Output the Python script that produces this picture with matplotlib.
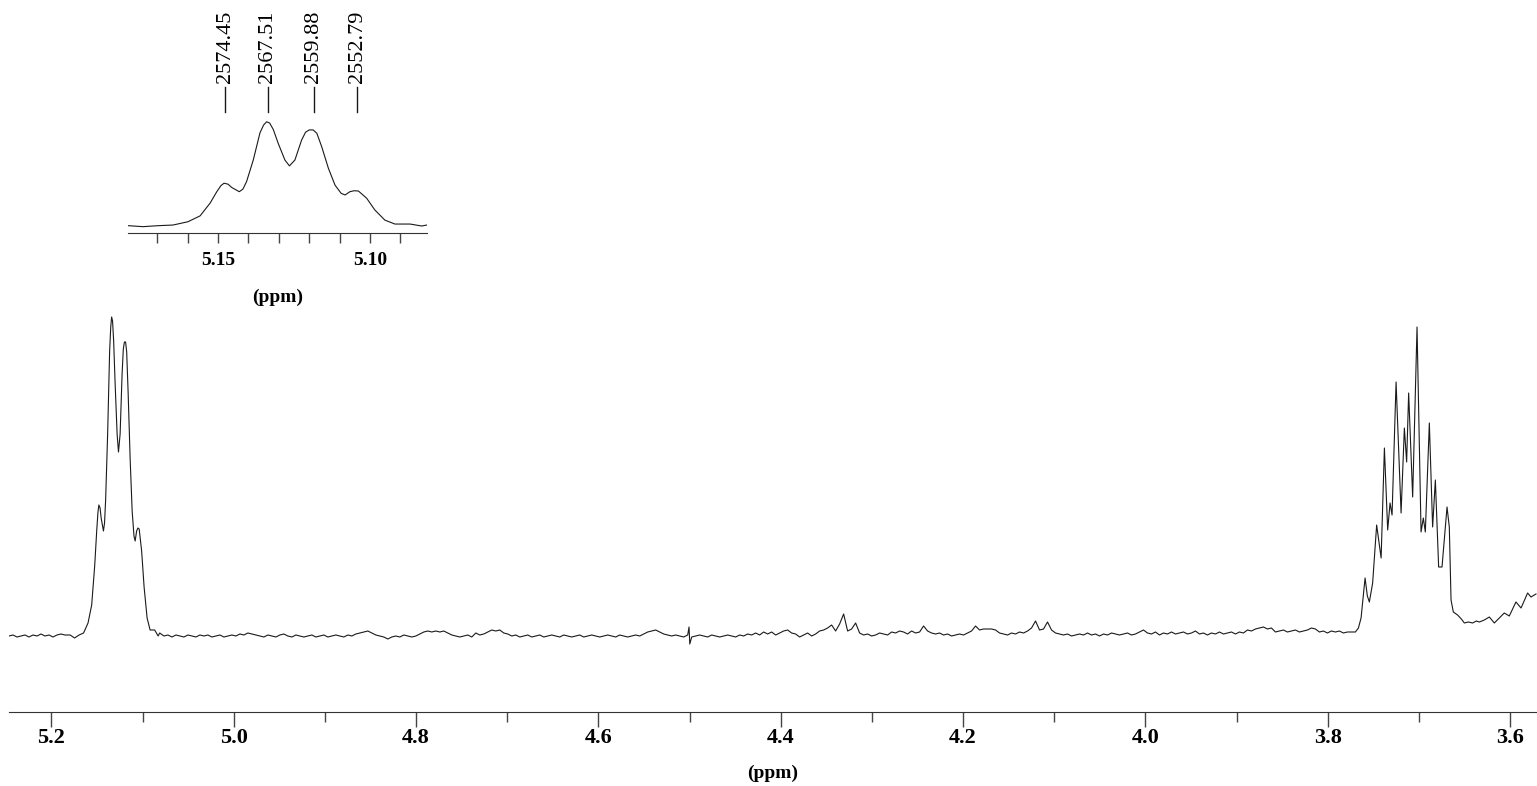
import numpy as np
import matplotlib
matplotlib.use('Agg')
import matplotlib.pyplot as plt
import matplotlib.transforms as mtransforms
from matplotlib.ticker import MultipleLocator, FormatStrFormatter

plt.rcParams['font.family'] = ['Liberation Serif', 'DejaVu Serif']
plt.rcParams['font.weight'] = 'bold'

# --- spectrum trace (ppm, intensity above baseline) ---

# left baseline, 5.2466 ppm onwards, one value per grid step
grid_step = 0.004386
base_left_start = 5.2466
base_left = [0, 1, -1, 0, 1, -1, 1, 0, 2, 0, 1, -1, 1, 2, 1]

# multiplet around 5.13 ppm
ppm_a = [5.1795, 5.1747, 5.1697, 5.1648, 5.1599, 5.1559, 5.1526, 5.1504, 5.1490,
         5.1480, 5.1467, 5.1455, 5.1430, 5.1418, 5.1406, 5.1384, 5.1362, 5.1350,
         5.1340, 5.1330, 5.1318, 5.1302, 5.1280, 5.1265, 5.1247, 5.1225, 5.1212,
         5.1200, 5.1187, 5.1175, 5.1159, 5.1137, 5.1115, 5.1095, 5.1082, 5.1066,
         5.1052, 5.1038, 5.1011, 5.0984, 5.0951, 5.0918, 5.0868, 5.0830, 5.0813]
int_a = [1, -2, 1, 3, 13, 31, 70, 105, 124,
         131, 128, 118, 105, 113, 136, 202, 285, 309,
         319, 315, 295, 253, 202, 184, 202, 263, 287,
         294, 294, 284, 243, 177, 125, 100, 95, 105,
         108, 107, 85, 49, 18, 6, 6, 0, 3]

# baseline between the two multiplets (four stretches)
mid_starts = [5.07664, 4.74770, 4.41875, 4.08980]
base_mid_1 = [0, 1, -1, 1, 0, -1, 1, 0, -1, 1,
              0, 1, -1, 0, 1, -1, 0, 1, 0, 2,
              1, 3, 2, 1, 0, -1, 1, 0, -1, 1,
              2, 0, -1, 1, 0, -1, 0, 1, -1, 0,
              1, -1, 0, 1, 0, -1, 1, 0, 2, 3,
              4, 5, 3, 1, 0, -1, -3, -1, 0, -1,
              1, 0, -1, 0, 2, 4, 5, 4, 5, 4,
              5, 3, 1, 0, -1]
base_mid_2 = [0, 1, -1, 3, 1, 2, 4, 6, 5, 6,
              3, 2, 0, 1, -1, 0, 1, -1, 0, 1,
              -1, 0, 1, 0, -1, 1, 0, -1, 0, 1,
              -1, 0, 1, 0, -1, 0, 1, 0, -1, 1,
              0, -1, 0, 1, 0, 2, 4, 5, 6, 4,
              2, 1, 0, 1, 0, -1, 1, -1, 0, 1,
              0, -1, 1, 0, -1, 0, 1, 0, -1, 1,
              0, 2, 1, 3, 1]
base_mid_3 = [4, 2, 4, 1, 3, 5, 6, 3, 2, -1,
              1, 3, 0, 2, 5, 6, 8, 11, 5, 12,
              22, 5, 7, 13, 3, 1, 2, 0, 1, 3,
              2, 1, 4, 3, 5, 4, 2, 5, 3, 4,
              10, 5, 3, 2, 3, 1, 2, 0, 1, 2,
              1, 3, 5, 10, 6, 7, 7, 7, 6, 3,
              2, 1, 3, 2, 4, 3, 5, 8, 15, 6,
              7, 14, 6, 3, 2]
base_mid_4 = [1, 2, 0, 1, 2, 1, 3, 1, 2, 0,
              2, 1, 3, 2, 1, 2, 3, 1, 2, 4,
              6, 3, 2, 4, 1, 3, 2, 4, 2, 3,
              4, 2, 3, 5, 2, 3, 1, 3, 2, 4,
              2, 3, 4, 2, 4, 3, 6, 5, 7, 8,
              9, 7, 8, 4, 5, 6, 4, 5, 6, 4,
              5, 6, 8, 7, 4, 5, 3, 5, 4, 5,
              3, 4, 4]

# spike near 4.50 ppm
glitch_ppm = [4.5006, 4.4998]
glitch_int = [9, -8]

# multiplet around 3.70 ppm and right baseline
ppm_b = [3.7696, 3.7663, 3.7634, 3.7590, 3.7565, 3.7543, 3.7507, 3.7463, 3.7414,
         3.7378, 3.7342, 3.7316, 3.7294, 3.7250, 3.7195, 3.7159, 3.7134, 3.7112,
         3.7068, 3.7020, 3.6976, 3.6951, 3.6929, 3.6885, 3.6849, 3.6819, 3.6783,
         3.6746, 3.6691, 3.6666, 3.6647, 3.6622, 3.6575, 3.6534, 3.6501, 3.6458,
         3.6410, 3.6370, 3.6336, 3.6282, 3.6227, 3.6172, 3.6118, 3.6063, 3.6008,
         3.5935, 3.5879, 3.5807, 3.5770, 3.5715]
int_b = [4, 8, 18, 58, 40, 34, 53, 111, 78, 188, 106, 133, 121, 254, 123, 208,
         174, 243, 139, 309, 104, 118, 104, 213, 109, 156, 69, 69, 129, 109, 36,
         24, 21, 17, 13, 14, 13, 15, 14, 16, 19, 13, 18, 23, 20, 34, 28, 43, 39, 42]

# peak labels of the inset (Hz)
label_hz = [2574.45, 2567.51, 2559.88, 2552.79]
spectrometer_mhz = 500.13

# --- assemble the trace ---
parts_ppm = [base_left_start - grid_step * np.arange(len(base_left)), np.array(ppm_a)]
parts_int = [np.array(base_left), np.array(int_a)]
for start, vals in zip(mid_starts, [base_mid_1, base_mid_2, base_mid_3, base_mid_4]):
    parts_ppm.append(start - grid_step * np.arange(len(vals)))
    parts_int.append(np.array(vals))
parts_ppm += [np.array(glitch_ppm), np.array(ppm_b)]
parts_int += [np.array(glitch_int), np.array(int_b)]
ppm = np.concatenate(parts_ppm)
inten = np.concatenate(parts_int).astype(float)
order = np.argsort(-ppm)
ppm, inten = ppm[order], inten[order]

W, H = 1537, 786
fig = plt.figure(figsize=(W / 100, H / 100), dpi=100)

line_color = '#1a1a1a'

# main spectrum
ax = fig.add_axes([9 / W, (H - 712) / H, (W - 9) / W, (712 - 300) / H])
ax.plot(ppm, inten, color=line_color, lw=0.8)
ax.set_xlim(5.2466, 3.5704)
ax.set_ylim(-76, 336)
for s in ['left', 'right', 'top']:
    ax.spines[s].set_visible(False)
ax.spines['bottom'].set_color('#333333')
ax.set_yticks([])
ax.xaxis.set_major_locator(MultipleLocator(0.2))
ax.xaxis.set_minor_locator(MultipleLocator(0.1))
ax.xaxis.set_major_formatter(FormatStrFormatter('%.1f'))
ax.tick_params(axis='x', which='major', length=11, width=1, pad=0.8, labelsize=16, color='#444444')
ax.tick_params(axis='x', which='minor', length=7, width=1, color='#444444')
ax.set_xlabel('(ppm)', fontsize=14, fontweight='bold', labelpad=12)

# inset
axi = fig.add_axes([128 / W, (H - 233) / H, 299 / W, 133 / H])
axi.plot(ppm, inten, color=line_color, lw=0.8)
axi.set_xlim(5.17961, 5.08125)
axi.set_ylim(-21.4, 385.6)
for s in ['left', 'right', 'top']:
    axi.spines[s].set_visible(False)
axi.spines['bottom'].set_color('#333333')
axi.set_yticks([])
axi.xaxis.set_major_locator(MultipleLocator(0.05))
axi.xaxis.set_minor_locator(MultipleLocator(0.01))
axi.xaxis.set_major_formatter(FormatStrFormatter('%.2f'))
axi.tick_params(axis='x', which='both', length=7, width=1, color='#444444')
axi.tick_params(axis='x', which='major', pad=7, labelsize=14)
axi.set_xlabel('(ppm)', fontsize=14, fontweight='bold', labelpad=14)

trans = mtransforms.blended_transform_factory(axi.transData, axi.transAxes)
for hz in label_hz:
    p = hz / spectrometer_mhz
    axi.plot([p, p], [0.910, 1.098], transform=trans, color=line_color, lw=1, clip_on=False)
    axi.text(p, 1.128, f'{hz:.2f}', rotation=90, ha='center', va='bottom',
             transform=trans, fontsize=16, fontweight='normal')

fig.savefig('out.png', dpi=100)
